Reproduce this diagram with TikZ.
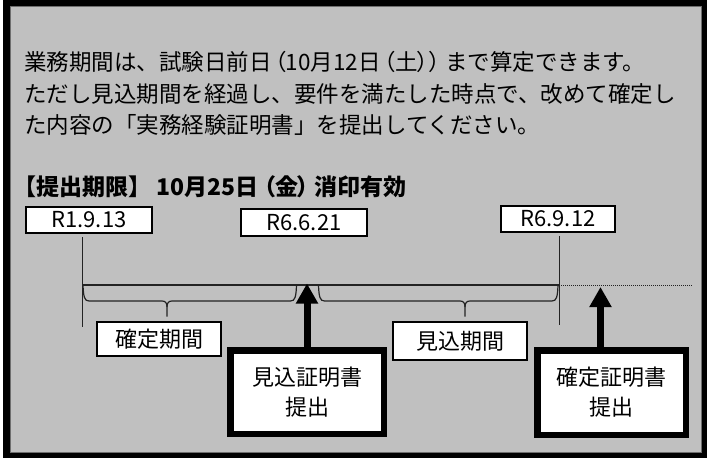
\documentclass[tikz,border=0pt]{standalone}
\usepackage{fontspec}
\setmainfont{Noto Sans CJK JP}
\usetikzlibrary{arrows.meta}
\definecolor{bg}{RGB}{192,192,192}
\definecolor{edge}{RGB}{110,110,110}
\definecolor{ln}{RGB}{35,35,35}
\newcommand{\pl}[1]{{\addfontfeature{RawFeature=+palt}#1}}
\tikzset{
  txt/.style={anchor=base west, inner sep=0, text=black, font=\fontsize{22.5}{26}\selectfont},
  boldtxt/.style={txt, font=\fontsize{23}{26}\selectfont\bfseries},
  datebox/.style={draw=black, line width=2pt, fill=white, inner sep=0, font=\fontsize{22}{26}\selectfont},
  periodbox/.style={draw=black, line width=2pt, fill=white, inner sep=0, font=\fontsize{22}{26}\selectfont},
  certbox/.style={draw=black, line width=6.5pt, fill=white, inner sep=0, outer sep=0, align=center, font=\fontsize{22}{30}\selectfont},
  bigarrow/.style={draw=black, line width=7pt, -{Triangle[width=21pt,length=20pt]}},
  tline/.style={draw=ln, line width=1pt},
  dotline/.style={draw=ln, line width=0.8pt, dash pattern=on 1pt off 1pt},
  bracepath/.style={draw=ln, line width=1.2pt},
}
\newcommand{\jbrace}[3]{%
  \draw[bracepath] (#1,285.5) .. controls (#1+0.5,297) and (#1+1.5,301) .. (#1+6,301) -- (#2-5,301)
     .. controls (#2-1.5,301) and (#2,303) .. (#2,307) -- (#2,316.5);
  \draw[bracepath] (#2,307) .. controls (#2,303) and (#2+1.5,301) .. (#2+5,301) -- (#3-6,301)
     .. controls (#3-1.5,301) and (#3-0.5,297) .. (#3,285.5);
}
\begin{document}
\begin{tikzpicture}[x=1pt,y=-1pt]
\useasboundingbox (0,0) rectangle (707,461);
\fill[white] (0,0) rectangle (707,461);
% frame
\fill[black] (3,0) rectangle (707,458);
\filldraw[fill=bg, draw=edge, line width=0.8pt] (10.5,6.5) rectangle (701,452);

% texts
\node[txt] (l1) at (24,70.5) {業務期間は、試験日前日\kern3pt\pl{（}10月12日\kern3pt\pl{（}土\pl{））}\kern5pt まで算定できます。};
\node[txt] (l2) at (24,102) {ただし見込期間を経過し、要件を満たした時点で、改めて確定し};
\node[txt] (l3) at (24,133.5) {た内容の「実務経験証明書」を提出してください。};
\node[boldtxt] (l4) at (13,195) {【提出期限】 10月25日\kern5pt\pl{（}金\pl{）}\kern5pt 消印有効};

% date boxes
\node[datebox, minimum width=126pt, minimum height=26pt] (r1) at (89,220) {R1.9.13};
\node[datebox, minimum width=126pt, minimum height=27pt] (r2) at (304,222.5) {R6.6.21};
\node[datebox, minimum width=114pt, minimum height=26pt] (r3) at (558,219) {R6.9.12};

% timeline
\coordinate (v1a) at (82,237);
\coordinate (v1b) at (82,327);
\coordinate (v2a) at (559,236);
\coordinate (v2b) at (559,325);
\coordinate (h1) at (82,285);
\coordinate (h2) at (559,285);
\coordinate (h3) at (692,285);
\draw[tline] (v1a) -- (v1b);
\draw[tline] (v2a) -- (v2b);
\draw[tline, line width=1.3pt] (h1) -- (h2);
\draw[dotline] (h2) -- (h3);

% braces
\jbrace{83}{167}{296.5}
\jbrace{318.5}{465}{558}

% period boxes
\node[periodbox, minimum width=124pt, minimum height=34pt] (p1) at (159,339) {確定期間};
\node[periodbox, minimum width=134pt, minimum height=38pt] (p2) at (460,341) {見込期間};

% certificate boxes
\node[certbox, minimum width=153.5pt, minimum height=83.5pt] (c1) at (307,392) {見込証明書\\提出};
\node[certbox, minimum width=148.5pt, minimum height=84.5pt] (c2) at (611.5,392.5) {確定証明書\\提出};

% arrows
\coordinate (t1) at (307,283.5);
\coordinate (t2) at (600.5,287);
\draw[bigarrow] (c1.north) -- (t1);
\draw[bigarrow] (c2.north -| t2) -- (t2);
\end{tikzpicture}
\end{document}
